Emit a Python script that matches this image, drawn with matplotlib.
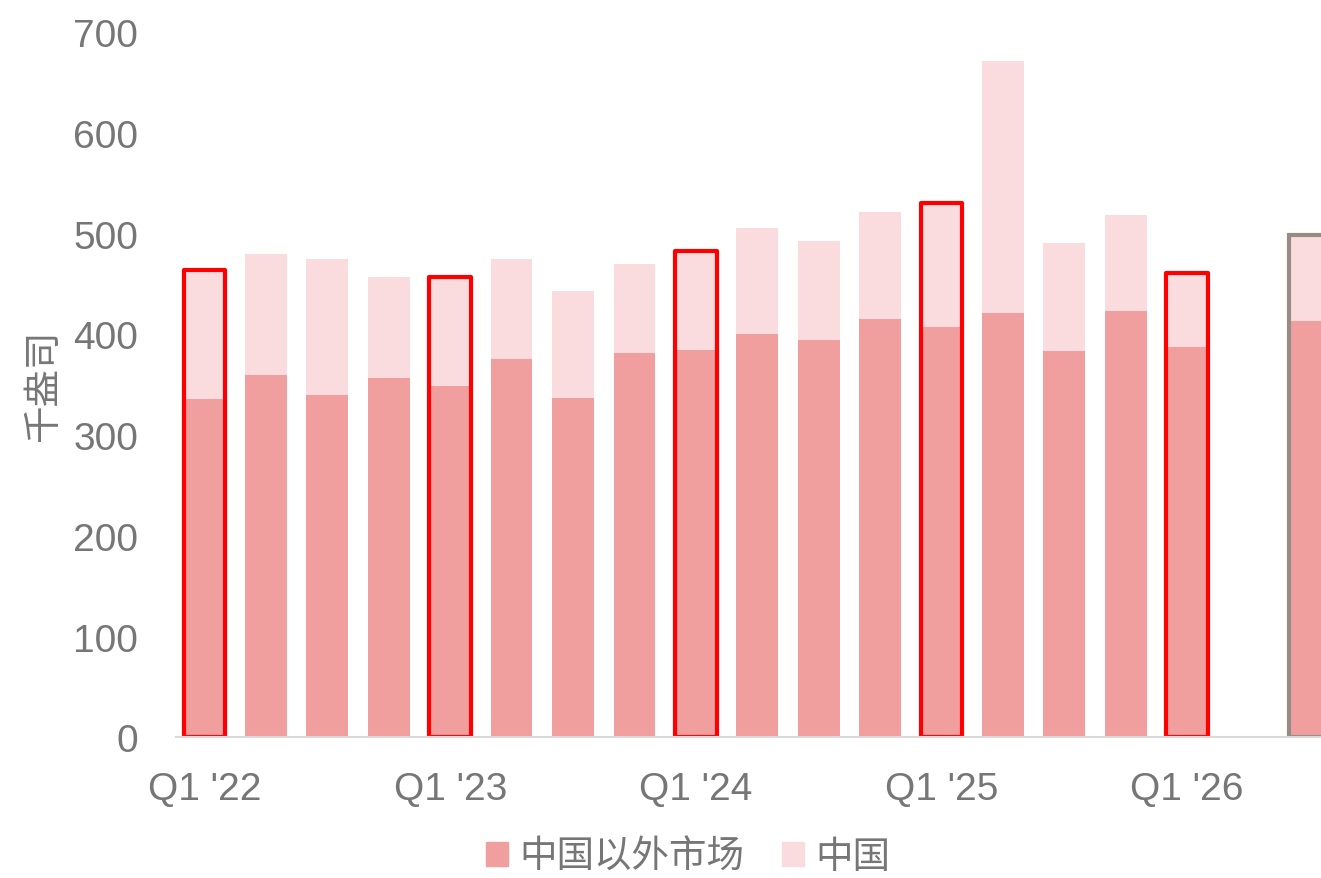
import numpy as np
import matplotlib
matplotlib.use("Agg")
import matplotlib.pyplot as plt
from matplotlib.patches import Patch

plt.rcParams['font.family'] = ['Liberation Sans', 'Noto Sans CJK SC', 'DejaVu Sans']

# quarterly demand, thousand ounces (Q1'22 .. Q1'26, gap, then one more bar)
quarters = ["Q1 '22", "Q2 '22", "Q3 '22", "Q4 '22",
            "Q1 '23", "Q2 '23", "Q3 '23", "Q4 '23",
            "Q1 '24", "Q2 '24", "Q3 '24", "Q4 '24",
            "Q1 '25", "Q2 '25", "Q3 '25", "Q4 '25",
            "Q1 '26", "", "FY"]
ex_china = [336, 360, 340, 357, 349, 375, 337, 381, 384, 400, 394, 415,
            407, 421, 383, 423, 387, np.nan, 413]
china = [128, 120, 135, 100, 108, 100, 106, 89, 99, 105, 99, 106,
         123, 250, 108, 95, 74, np.nan, 86]
red_boxes = [0, 4, 8, 12, 16]
grey_boxes = [18]
tick_pos = [0, 4, 8, 12, 16]

c_low = "#F19E9F"
c_high = "#FADCDF"
grey_txt = "#767676"

fig = plt.figure(figsize=(13.21, 8.79), dpi=100)
ax = fig.add_axes([0.133, 0.160, 0.867, 0.8025])

x = np.arange(len(quarters))
low = np.array(ex_china, dtype=float)
high = np.array(china, dtype=float)
w = 0.68

ax.bar(x, low, width=w, color=c_low, linewidth=0)
ax.bar(x, high, width=w, bottom=low, color=c_high, linewidth=0)

# outlines around the whole stack
total = low + high
ax.bar(x[red_boxes], total[red_boxes], width=w, fill=False,
       edgecolor="#FF0000", linewidth=3.0, joinstyle="round")
ax.bar(x[grey_boxes], total[grey_boxes], width=w, fill=False,
       edgecolor="#968C83", linewidth=3.0)

ax.set_xlim(-0.47, 18.18)
ax.set_ylim(0, 700)
ax.set_yticks(range(0, 701, 100))
ax.set_xticks(tick_pos)
ax.set_xticklabels([quarters[i] for i in tick_pos])

for s in ["top", "right", "left"]:
    ax.spines[s].set_visible(False)
ax.spines["bottom"].set_color("#D9D9D9")
ax.spines["bottom"].set_linewidth(1.5)

ax.tick_params(axis="y", length=0, pad=27, labelsize=28, labelcolor=grey_txt)
ax.tick_params(axis="x", length=0, pad=24, labelsize=28, labelcolor=grey_txt)

ax.set_ylabel("千盎司", fontsize=27, color=grey_txt, labelpad=8)

handles = [Patch(color=c_low), Patch(color=c_high)]
fig.legend(handles, ["中国以外市场", "中国"], loc="center",
           bbox_to_anchor=(0.521, 0.024), ncol=2, frameon=False,
           fontsize=27, labelcolor=grey_txt, handlelength=0.6,
           handleheight=0.6, handletextpad=0.3, columnspacing=1.0)

fig.savefig("out.png", dpi=100)
